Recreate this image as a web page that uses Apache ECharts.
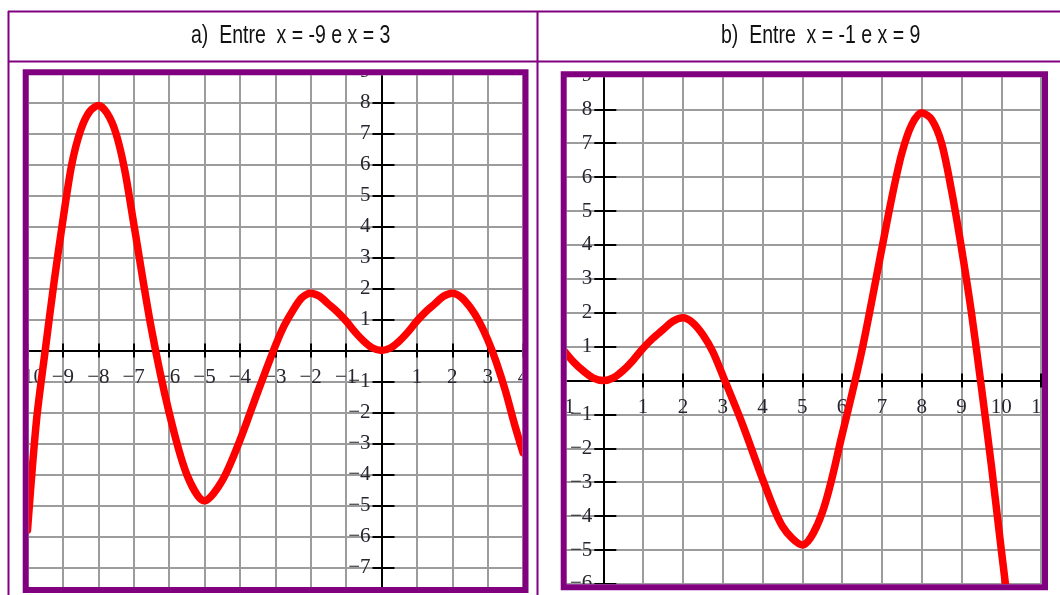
<!DOCTYPE html>
<html>
<head>
<meta charset="utf-8">
<script src="https://cdn.jsdelivr.net/npm/echarts@6/dist/echarts.min.js"></script>
<style>
  html, body { margin: 0; padding: 0; background: #fff; }
  #chart { width: 1060px; height: 595px; }
</style>
</head>
<body>
<div id="chart"></div>
<script>
// Panel headings
const titleA = 'a)  Entre  x = -9 e x = 3';
const titleB = 'b)  Entre  x = -1 e x = 9';

// Panel a: curve sampled between x = -10 and x = 4
const xA = [-10, -9.75, -9.5, -9.25, -9, -8.75, -8.5, -8.25, -8, -7.75, -7.5, -7.25, -7, -6.5, -6, -5.5, -5, -4.5, -4, -3.5, -3, -2.75, -2.5, -2.25, -2, -1.75, -1.5, -1.25, -1, -0.75, -0.5, -0.25, 0, 0.25, 0.5, 0.75, 1, 1.25, 1.5, 1.75, 2, 2.25, 2.5, 2.75, 3, 3.25, 3.5, 3.75, 4];
const yA = [-5.8, -2.3, 0.0, 2.2, 4.2, 6.0, 7.1, 7.7, 7.9, 7.65, 7.0, 5.8, 4.1, 0.7, -2.0, -4.0, -4.85, -4.2, -2.9, -1.35, 0.15, 0.8, 1.3, 1.7, 1.85, 1.75, 1.5, 1.25, 0.95, 0.6, 0.3, 0.08, 0.0, 0.08, 0.3, 0.6, 0.95, 1.25, 1.5, 1.75, 1.85, 1.72, 1.4, 0.95, 0.35, -0.4, -1.3, -2.35, -3.3];

// Panel b: curve sampled between x = -1 and x = 10.25
const xB = [-1, -0.75, -0.5, -0.25, 0, 0.25, 0.5, 0.75, 1, 1.25, 1.5, 1.75, 2, 2.25, 2.5, 2.75, 3, 3.5, 4, 4.5, 5, 5.5, 6, 6.5, 7, 7.25, 7.5, 7.75, 8, 8.25, 8.5, 8.75, 9, 9.25, 9.5, 9.75, 10, 10.25];
const yB = [0.9, 0.55, 0.28, 0.07, 0.0, 0.08, 0.3, 0.6, 0.95, 1.25, 1.5, 1.75, 1.85, 1.7, 1.35, 0.85, 0.15, -1.3, -2.9, -4.3, -4.85, -3.9, -1.6, 0.9, 3.9, 5.4, 6.7, 7.55, 7.9, 7.7, 7.0, 5.6, 3.9, 2.0, -0.2, -2.5, -5.0, -7.4];

// Axis ranges (integer ticks)
const rangeA = { xMin: -10, xMax: 4, yMin: -8, yMax: 9 };
const rangeB = { xMin: -1, xMax: 11, yMin: -6, yMax: 9 };

// Layout of the two panels: full grid box and the visible window inside the purple frame
const panelA = { grid: { left: 27.5, top: 71.5, width: 495.6, height: 527 },
                 view: { x1: 28.7, y1: 75.3, x2: 522.5, y2: 587 },
                 cell: { x1: 9, x2: 537 } };
const panelB = { grid: { left: 563.5, top: 75.4, width: 477.6, height: 508.5 },
                 view: { x1: 566.7, y1: 77.3, x2: 1042, y2: 584.3 },
                 cell: { x1: 539, x2: 1060 } };

const PURPLE = '#800080';
const TICK_FONT = '"Liberation Serif", "DejaVu Serif", serif';
const HEAD_FONT = '"Liberation Sans", Arial, sans-serif';

function tickText(v) {
  if (v === 0) return '';
  return v < 0 ? '\u2212' + (-v) : String(v);
}

const labelStyle = { color: '#262630', fontFamily: TICK_FONT, fontSize: 21 };

// Pixel distances from each grid edge to the zero lines, so the axes cross at the origin
function zeroShift(p, r) {
  const g = p.grid;
  const x0 = g.left + (0 - r.xMin) / (r.xMax - r.xMin) * g.width;
  const y0 = g.top + (r.yMax - 0) / (r.yMax - r.yMin) * g.height;
  return {
    left: x0 - g.left, right: g.left + g.width - x0,
    top: y0 - g.top, bottom: g.top + g.height - y0
  };
}

function xAxesFor(gridIndex, p, r) {
  const s = zeroShift(p, r);
  const base = { type: 'value', gridIndex, min: r.xMin, max: r.xMax, interval: 1 };
  return [
    Object.assign({}, base, {
      position: 'bottom', offset: -s.bottom,
      axisLine: { show: true, onZero: false, lineStyle: { color: '#000', width: 2 } },
      axisTick: { show: true, inside: false, length: 7, lineStyle: { color: '#000', width: 2 } },
      axisLabel: Object.assign({ show: true, margin: 16, formatter: tickText,
                                 showMinLabel: true, showMaxLabel: true, hideOverlap: false }, labelStyle),
      splitLine: { show: true, lineStyle: { color: '#9c9c9c', width: 2 } }
    }),
    Object.assign({}, base, {
      position: 'top', offset: -s.top,
      axisLine: { show: false, onZero: false },
      axisTick: { show: true, inside: false, length: 7, lineStyle: { color: '#000', width: 2 } },
      axisLabel: { show: false },
      splitLine: { show: false }
    })
  ];
}

function yAxesFor(gridIndex, p, r) {
  const s = zeroShift(p, r);
  const base = { type: 'value', gridIndex, min: r.yMin, max: r.yMax, interval: 1 };
  return [
    Object.assign({}, base, {
      position: 'left', offset: -s.left,
      axisLine: { show: true, onZero: false, lineStyle: { color: '#000', width: 2 } },
      axisTick: { show: true, inside: false, length: 9, lineStyle: { color: '#000', width: 2 } },
      axisLabel: Object.assign({ show: true, margin: 11, formatter: tickText,
                                 showMinLabel: true, showMaxLabel: true, hideOverlap: false }, labelStyle),
      splitLine: { show: true, lineStyle: { color: '#9c9c9c', width: 2 } }
    }),
    Object.assign({}, base, {
      position: 'right', offset: -s.right,
      axisLine: { show: false, onZero: false },
      axisTick: { show: true, inside: false, length: 13, lineStyle: { color: '#000', width: 2 } },
      axisLabel: { show: false },
      splitLine: { show: false }
    })
  ];
}

function curve(xs, ys, axisIndex) {
  return {
    type: 'line',
    xAxisIndex: axisIndex,
    yAxisIndex: axisIndex,
    data: xs.map((x, i) => [x, ys[i]]),
    smooth: 0.3,
    showSymbol: false,
    clip: true,
    silent: true,
    z: 10,
    lineStyle: { color: '#ff0000', width: 7.5, cap: 'round', join: 'round' }
  };
}

// White masks hide everything of a grid that lies outside its framed window
function masks(p) {
  const v = p.view, c = p.cell, top = 62.5, bottom = 595;
  const r = (x, y, w, h) => ({ type: 'rect', z: 100, silent: true,
    shape: { x, y, width: w, height: h }, style: { fill: '#fff' } });
  return [
    r(c.x1, top, c.x2 - c.x1, v.y1 - top),
    r(c.x1, v.y2, c.x2 - c.x1, bottom - v.y2),
    r(c.x1, v.y1, v.x1 - c.x1, v.y2 - v.y1),
    r(v.x2, v.y1, c.x2 - v.x2, v.y2 - v.y1)
  ];
}

function frame(p) {
  const v = p.view, w = 6;
  return { type: 'rect', z: 110, silent: true,
    shape: { x: v.x1 - w / 2, y: v.y1 - w / 2, width: v.x2 - v.x1 + w, height: v.y2 - v.y1 + w },
    style: { fill: 'none', stroke: PURPLE, lineWidth: w } };
}

function hline(x1, x2, y) {
  return { type: 'line', z: 120, silent: true, shape: { x1, y1: y, x2, y2: y },
    style: { stroke: PURPLE, lineWidth: 2 } };
}
function vline(x, y1, y2) {
  return { type: 'line', z: 120, silent: true, shape: { x1: x, y1, x2: x, y2 },
    style: { stroke: PURPLE, lineWidth: 2 } };
}
// Headings use a horizontally condensed sans face
function heading(text, x, y) {
  return { type: 'text', z: 120, silent: true, x, y, scaleX: 0.78, scaleY: 1,
    style: { text, fill: '#111', font: '25px ' + HEAD_FONT, verticalAlign: 'middle' } };
}

const chart = echarts.init(document.getElementById('chart'), null, { renderer: 'canvas' });
chart.setOption({
  animation: false,
  backgroundColor: '#fff',
  grid: [
    Object.assign({ containLabel: false, outerBoundsMode: 'none' }, panelA.grid),
    Object.assign({ containLabel: false, outerBoundsMode: 'none' }, panelB.grid)
  ],
  xAxis: [...xAxesFor(0, panelA, rangeA), ...xAxesFor(1, panelB, rangeB)],
  yAxis: [...yAxesFor(0, panelA, rangeA), ...yAxesFor(1, panelB, rangeB)],
  series: [curve(xA, yA, 0), curve(xB, yB, 2)],
  graphic: {
    elements: [
      ...masks(panelA), ...masks(panelB),
      frame(panelA), frame(panelB),
      hline(8, 1060, 11.5), hline(8, 1060, 61.5),
      vline(8.5, 11, 595), vline(537.5, 11, 595),
      heading(titleA, 191, 36), heading(titleB, 721, 36)
    ]
  }
});
</script>
</body>
</html>
